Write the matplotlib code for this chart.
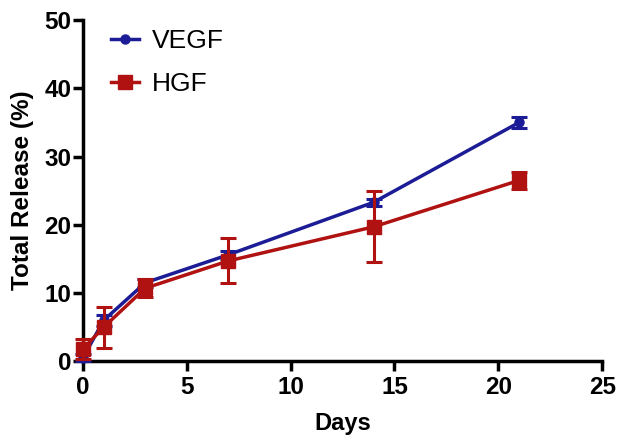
import matplotlib
matplotlib.use("Agg")
import matplotlib.pyplot as plt
from matplotlib.lines import Line2D

days = [0, 1, 3, 7, 14, 21]
vegf = [0.5, 6.0, 11.5, 15.6, 23.3, 35.0]
vegf_err = [0.5, 0.8, 0.6, 0.6, 0.5, 0.8]
hgf = [1.8, 5.0, 10.7, 14.7, 19.7, 26.5]
hgf_err = [1.5, 3.0, 1.3, 3.3, 5.2, 1.2]
xticks = [0, 5, 10, 15, 20, 25]
yticks = [0, 10, 20, 30, 40, 50]

plt.rcParams['font.family'] = ['Liberation Sans', 'DejaVu Sans']

fig = plt.figure(figsize=(6.24, 4.47), dpi=100)
ax = fig.add_axes([0.133, 0.192, 0.832, 0.763])

blue = '#1c1c96'
red = '#b01212'
ax.errorbar(days, vegf, yerr=vegf_err, color=blue, marker='o', markersize=6.5,
            linewidth=2.5, elinewidth=2.2, capsize=6, capthick=2.2, zorder=3)
ax.errorbar(days, hgf, yerr=hgf_err, color=red, marker='s', markersize=10,
            linewidth=2.5, elinewidth=2.2, capsize=6, capthick=2.2, zorder=4)

ax.set_xlim(0, 25)
ax.set_ylim(0, 50)
ax.set_xticks(xticks)
ax.set_yticks(yticks)
for s in ['top', 'right']:
    ax.spines[s].set_visible(False)
for s in ['left', 'bottom']:
    ax.spines[s].set_linewidth(2.5)
ax.tick_params(width=2.5, length=7, labelsize=17.5, direction='out')
ax.tick_params(axis='y', pad=1.5)
ax.tick_params(axis='x', pad=4)
for lab in ax.get_xticklabels() + ax.get_yticklabels():
    lab.set_fontweight('bold')
ax.set_xlabel('Days', fontsize=17, fontweight='bold', labelpad=9)
ax.set_ylabel('Total Release (%)', fontsize=17.5, fontweight='bold', labelpad=7)
for c in ax.get_children():
    try:
        c.set_clip_on(False)
    except Exception:
        pass

handles = [Line2D([], [], color=blue, marker='o', markersize=6.5, linewidth=2.5),
           Line2D([], [], color=red, marker='s', markersize=10, linewidth=2.5)]
leg = fig.legend(handles, ['VEGF', 'HGF'], loc='upper left',
                 bbox_to_anchor=(111 / 624, 1 - 29 / 447), bbox_transform=fig.transFigure,
                 frameon=False, fontsize=19, handlelength=1.06, handletextpad=0.5,
                 borderpad=0, borderaxespad=0, labelspacing=0.72)

fig.savefig('out.png', dpi=100)
